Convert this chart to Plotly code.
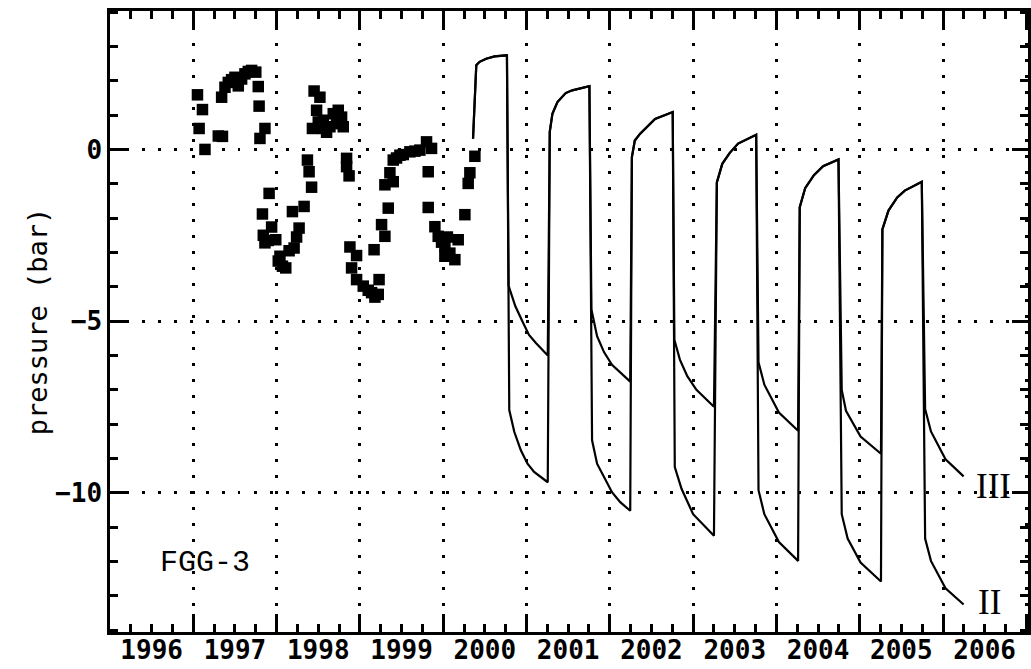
import plotly.graph_objects as go

# ---------------- data (decimal year, pressure in bar) ----------------
obs_t = [1997.05, 1997.11, 1997.07, 1997.14, 1997.30, 1997.35, 1997.34, 1997.38, 1997.42, 1997.46,
         1997.50, 1997.54, 1997.58, 1997.62, 1997.66, 1997.70, 1997.75, 1997.78, 1997.79, 1997.86,
         1997.80, 1997.91, 1997.83, 1997.94, 1997.86, 1997.84, 1997.90, 1997.99, 1998.04, 1998.07,
         1998.11, 1998.02, 1998.15, 1998.21, 1998.24, 1998.27, 1998.19, 1998.33, 1998.37, 1998.39,
         1998.42, 1998.45, 1998.52, 1998.48, 1998.43, 1998.50, 1998.56, 1998.56, 1998.60, 1998.64,
         1998.68, 1998.72, 1998.74, 1998.78, 1998.80, 1998.84, 1998.84, 1998.87, 1998.88, 1998.96,
         1998.90, 1998.96, 1999.04, 1999.10, 1999.14, 1999.18, 1999.22, 1999.23, 1999.17, 1999.26,
         1999.30, 1999.34, 1999.30, 1999.36, 1999.40, 1999.40, 1999.44, 1999.48, 1999.52, 1999.60,
         1999.66, 1999.72, 1999.80, 1999.86, 1999.82, 1999.82, 1999.90, 1999.94, 1999.98, 2000.02,
         2000.02, 2000.05, 2000.08, 2000.14, 2000.18, 2000.26, 2000.30, 2000.32, 2000.38]
obs_p = [1.59, 1.16, 0.61, 0.00, 0.39, 0.38, 1.52, 1.81, 1.95, 2.03,
         2.10, 1.85, 2.05, 2.20, 2.27, 2.30, 2.25, 1.83, 1.26, 0.61,
         0.32, -1.28, -1.88, -2.26, -2.72, -2.50, -2.65, -2.63, -3.11, -3.40,
         -3.45, -3.25, -2.95, -2.87, -2.55, -2.29, -1.81, -1.66, -0.31, -0.65,
         -1.10, 1.70, 1.52, 1.14, 0.61, 0.80, 0.85, 0.61, 0.50, 0.66,
         1.04, 0.75, 1.14, 0.94, 0.66, -0.26, -0.50, -0.77, -2.84, -3.09,
         -3.45, -3.79, -3.98, -4.10, -4.17, -4.30, -4.22, -3.79, -2.92, -2.19,
         -2.53, -1.71, -1.03, -0.68, -0.94, -0.31, -0.25, -0.17, -0.15, -0.07,
         -0.05, -0.02, 0.22, 0.03, -0.65, -1.69, -2.25, -2.53, -2.70, -2.82,
         -3.11, -2.55, -3.02, -3.21, -2.63, -1.90, -0.99, -0.68, -0.20]

# simulated injection (summer) branch, common to scenarios II and III
summer_t = [
    [2000.358, 2000.397, 2000.437, 2000.516, 2000.616, 2000.765],
    [2001.279, 2001.311, 2001.371, 2001.470, 2001.549, 2001.649, 2001.755],
    [2002.265, 2002.300, 2002.364, 2002.543, 2002.755],
    [2003.285, 2003.350, 2003.440, 2003.540, 2003.757],
    [2004.280, 2004.345, 2004.450, 2004.560, 2004.745],
    [2005.272, 2005.345, 2005.450, 2005.541, 2005.745],
]
summer_p = [
    [0.31, 2.45, 2.55, 2.64, 2.71, 2.74],
    [0.51, 1.04, 1.38, 1.64, 1.72, 1.77, 1.84],
    [-0.22, 0.26, 0.46, 0.89, 1.09],
    [-0.96, -0.42, -0.10, 0.17, 0.43],
    [-1.68, -1.13, -0.75, -0.49, -0.29],
    [-2.33, -1.78, -1.40, -1.20, -0.94],
]
# withdrawal (winter) branch, scenario III
winter3_t = [
    [2000.785, 2000.865, 2000.950, 2001.030, 2001.110, 2001.255],
    [2001.779, 2001.847, 2001.930, 2002.026, 2002.245],
    [2002.775, 2002.841, 2002.930, 2003.040, 2003.250],
    [2003.785, 2003.855, 2004.030, 2004.260],
    [2004.784, 2004.835, 2005.010, 2005.255],
    [2005.785, 2005.855, 2006.030, 2006.247],
]
winter3_p = [
    [-3.97, -4.56, -5.00, -5.40, -5.63, -6.00],
    [-4.66, -5.44, -5.90, -6.27, -6.76],
    [-5.54, -6.12, -6.60, -7.00, -7.49],
    [-6.20, -6.85, -7.66, -8.19],
    [-7.00, -7.61, -8.36, -8.86],
    [-7.56, -8.21, -9.02, -9.52],
]
# withdrawal (winter) branch, scenario II
winter2_t = [
    [2000.793, 2000.853, 2000.932, 2001.012, 2001.091, 2001.255],
    [2001.787, 2001.847, 2002.026, 2002.125, 2002.245],
    [2002.780, 2002.861, 2003.000, 2003.250],
    [2003.785, 2003.855, 2004.030, 2004.260],
    [2004.784, 2004.855, 2005.010, 2005.255],
    [2005.785, 2005.855, 2006.030, 2006.247],
]
winter2_p = [
    [-7.59, -8.22, -8.76, -9.15, -9.39, -9.69],
    [-8.47, -9.15, -9.98, -10.27, -10.52],
    [-9.25, -9.88, -10.62, -11.25],
    [-9.92, -10.62, -11.43, -11.98],
    [-10.62, -11.33, -12.03, -12.58],
    [-11.33, -11.98, -12.78, -13.25],
]

year_labels = [str(y) for y in range(1996, 2007)]
year_mid = [y + 0.5 for y in range(1996, 2007)]


def join(a_list, b_list):
    out = []
    for a, b in zip(a_list, b_list):
        out += a + b
    return out


II_t, II_p = join(summer_t, winter2_t), join(summer_p, winter2_p)
III_t, III_p = join(summer_t, winter3_t), join(summer_p, winter3_p)

fig = go.Figure()
fig.add_trace(go.Scatter(x=III_t, y=III_p, mode="lines", line=dict(color="black", width=2.2),
                         name="III", showlegend=False))
fig.add_trace(go.Scatter(x=II_t, y=II_p, mode="lines", line=dict(color="black", width=2.2),
                         name="II", showlegend=False))
fig.add_trace(go.Scatter(x=obs_t, y=obs_p, mode="markers", xaxis="x2",
                         marker=dict(symbol="square", size=11.5, color="black", line=dict(width=0)),
                         name="FGG-3", showlegend=False))

XR = [1996, 2007.02]
YR = [-14.05, 4.03]
dot = "2.5px,13.5px"

fig.update_layout(
    width=1031, height=669,
    margin=dict(l=110, r=0, t=11, b=37),
    paper_bgcolor="white", plot_bgcolor="white",
    xaxis=dict(range=XR, tick0=1996, dtick=1, showticklabels=False,
               ticks="inside", ticklen=18, tickwidth=2.5, tickcolor="black",
               minor=dict(dtick=0.25, tick0=1996, ticks="inside", ticklen=8, tickwidth=2.5,
                          tickcolor="black", showgrid=False),
               showgrid=True, gridcolor="black", gridwidth=2.5, griddash=dot,
               showline=True, linecolor="black", linewidth=2.5, mirror="ticks",
               zeroline=False),
    xaxis2=dict(range=XR, overlaying="x", side="bottom", tickvals=year_mid, ticktext=year_labels,
                ticks="", showgrid=False, showline=False, zeroline=False,
                tickfont=dict(family="DejaVu Sans Mono", size=26, color="black", weight="bold"),
                ticklabelstandoff=0),
    yaxis=dict(range=YR, tick0=0, dtick=5,
               ticks="inside", ticklen=16, tickwidth=2.5, tickcolor="black",
               minor=dict(dtick=1, tick0=0, ticks="inside", ticklen=8, tickwidth=2.5,
                          tickcolor="black", showgrid=False),
               showgrid=True, gridcolor="black", gridwidth=2.5, griddash=dot,
               showline=True, linecolor="black", linewidth=2.5, mirror="ticks",
               zeroline=False,
               tickfont=dict(family="DejaVu Sans Mono", size=26, color="black", weight="bold"),
               ticklabelstandoff=0,
               title=dict(text="pressure (bar)", standoff=0,
                          font=dict(family="DejaVu Sans Mono", size=27, color="black"))),
    annotations=[
        dict(x=1997.136, y=-12.05, xref="x", yref="y", text="FGG-3", showarrow=False,
             font=dict(family="Liberation Mono", size=30, color="black")),
        dict(x=2006.6, y=-9.8, xref="x", yref="y", text="III", showarrow=False,
             font=dict(family="Liberation Serif", size=35, color="black")),
        dict(x=2006.56, y=-13.2, xref="x", yref="y", text="II", showarrow=False,
             font=dict(family="Liberation Serif", size=35, color="black")),
    ],
)

fig.write_html("out.html")
